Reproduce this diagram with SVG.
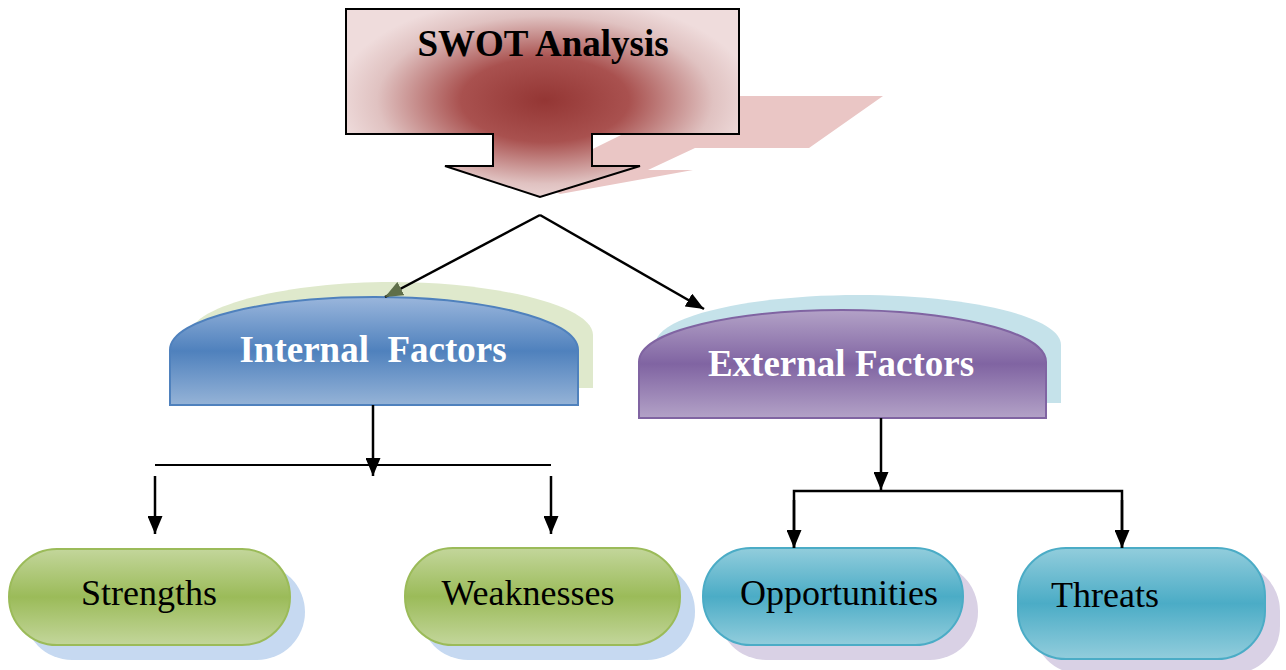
<svg xmlns="http://www.w3.org/2000/svg" width="1286" height="670" viewBox="0 0 1286 670">
<style>
.lbl{font-family:"Liberation Serif","Times New Roman",serif;font-size:36px;fill:#000;text-anchor:middle}
.hdr{font-family:"Liberation Serif","Times New Roman",serif;font-size:37px;font-weight:bold;fill:#fff;text-anchor:middle}
.conn{fill:none;stroke:#000;stroke-width:2.5}
</style>
<defs>
<radialGradient id="gRed" cx="545" cy="100" r="210" gradientUnits="userSpaceOnUse" gradientTransform="translate(545 100) scale(1 0.5) translate(-545 -100)">
<stop offset="0" stop-color="#943634"/>
<stop offset="0.4" stop-color="#a9514f"/>
<stop offset="0.8" stop-color="#e0c2c1"/>
<stop offset="1" stop-color="#efdcdc"/>
</radialGradient>
<linearGradient id="gBlue" x1="0" y1="0" x2="0" y2="1">
<stop offset="0" stop-color="#9ab6dc"/>
<stop offset="0.5" stop-color="#4f81bd"/>
<stop offset="1" stop-color="#95b3d7"/>
</linearGradient>
<linearGradient id="gPurple" x1="0" y1="0" x2="0" y2="1">
<stop offset="0" stop-color="#b3a2c7"/>
<stop offset="0.5" stop-color="#8064a2"/>
<stop offset="1" stop-color="#b3a2c7"/>
</linearGradient>
<linearGradient id="gGreen" x1="0" y1="0" x2="0" y2="1">
<stop offset="0" stop-color="#c3d69b"/>
<stop offset="0.5" stop-color="#9bbb59"/>
<stop offset="1" stop-color="#c3d69b"/>
</linearGradient>
<linearGradient id="gTeal" x1="0" y1="0" x2="0" y2="1">
<stop offset="0" stop-color="#92cddc"/>
<stop offset="0.5" stop-color="#4bacc6"/>
<stop offset="1" stop-color="#92cddc"/>
</linearGradient>
<marker id="ah" markerWidth="18" markerHeight="15" refX="18" refY="7.5" orient="auto" markerUnits="userSpaceOnUse">
<path d="M0,0 L18,7.5 L0,15 Z" fill="#000"/>
</marker>
<marker id="ahg" markerWidth="18" markerHeight="15" refX="18" refY="7.5" orient="auto" markerUnits="userSpaceOnUse">
<path d="M0,0 L18,7.5 L0,15 Z" fill="#5f6f4a"/>
</marker>
</defs>

<g id="swot">
<polygon points="700,96 883,96 809,148 695,148 648,170 693,170 560,194 530,180" fill="#eac6c5"/>
<path d="M346,9 H739 V134 H592 V166 H640 L540,197 L445,166 H493 V134 H346 Z" fill="url(#gRed)" stroke="#000" stroke-width="2"/>
<text x="543" y="56" class="lbl" style="font-weight:bold;font-size:37px">SWOT Analysis</text>
</g>

<g id="internal">
<path d="M190,388 V335 C190,305 290,282 392,282 C494,282 593,305 593,335 V388 Z" fill="#dfe9cc"/>
<path d="M170,405 V350 C170,318 270,297 374,297 C478,297 578,318 578,350 V405 Z" fill="url(#gBlue)" stroke="#4f81bd" stroke-width="2"/>
<text x="373" y="362" class="hdr" xml:space="preserve">Internal  Factors</text>
</g>

<g id="external">
<path d="M655,403 V345 C655,315 755,295 858,295 C961,295 1061,315 1061,345 V403 Z" fill="#c5e2ea"/>
<path d="M639,418 V362 C639,330 739,310 842,310 C945,310 1046,330 1046,362 V418 Z" fill="url(#gPurple)" stroke="#8064a2" stroke-width="2"/>
<text x="841" y="376" class="hdr">External Factors</text>
</g>

<g id="strengths">
<rect x="24" y="564" width="281" height="96" rx="48" fill="#c6d9f1"/>
<rect x="9" y="549" width="281" height="96" rx="48" fill="url(#gGreen)" stroke="#9bbb59" stroke-width="2"/>
<text x="149" y="605" class="lbl">Strengths</text>
</g>

<g id="weaknesses">
<rect x="420" y="563" width="275" height="97" rx="48" fill="#c6d9f1"/>
<rect x="405" y="548" width="275" height="97" rx="48" fill="url(#gGreen)" stroke="#9bbb59" stroke-width="2"/>
<text x="528" y="605" class="lbl">Weaknesses</text>
</g>

<g id="opportunities">
<rect x="718" y="563" width="260" height="97" rx="48" fill="#d9d1e5"/>
<rect x="703" y="548" width="260" height="97" rx="48" fill="url(#gTeal)" stroke="#4bacc6" stroke-width="2"/>
<text x="839" y="605" class="lbl">Opportunities</text>
</g>

<g id="threats">
<rect x="1033" y="563" width="247" height="111" rx="48" fill="#d9d1e5"/>
<rect x="1018" y="548" width="247" height="111" rx="48" fill="url(#gTeal)" stroke="#4bacc6" stroke-width="2"/>
<text x="1105" y="607" class="lbl">Threats</text>
</g>

<g id="connectors">
<line x1="540" y1="215" x2="385" y2="297" class="conn" marker-end="url(#ahg)"/>
<line x1="540" y1="215" x2="704" y2="309" class="conn" marker-end="url(#ah)"/>
<line x1="373" y1="405" x2="373" y2="476" class="conn" marker-end="url(#ah)"/>
<line x1="155" y1="465" x2="551" y2="465" class="conn" style="stroke-width:2"/>
<line x1="155" y1="476" x2="155" y2="534" class="conn" marker-end="url(#ah)"/>
<line x1="551" y1="476" x2="551" y2="534" class="conn" marker-end="url(#ah)"/>
<line x1="881" y1="418" x2="881" y2="490" class="conn" marker-end="url(#ah)"/>
<polyline points="794,548 794,491 1122,491 1122,548" class="conn"/>
<line x1="794" y1="500" x2="794" y2="548" class="conn" marker-end="url(#ah)"/>
<line x1="1122" y1="500" x2="1122" y2="548" class="conn" marker-end="url(#ah)"/>
</g>
</svg>
